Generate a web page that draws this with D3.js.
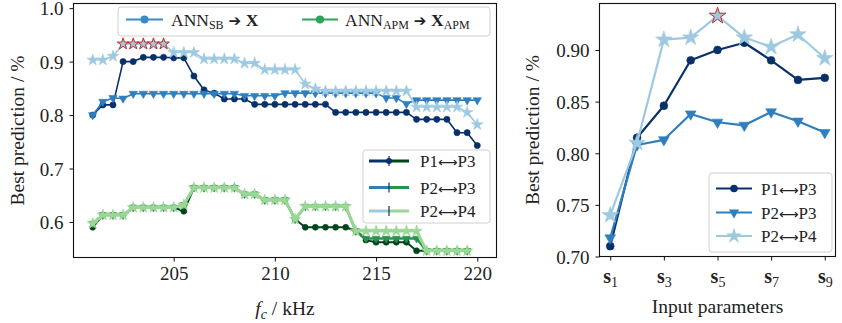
<!DOCTYPE html>
<html><head><meta charset="utf-8">
<script src="https://cdn.jsdelivr.net/npm/d3@7"></script>
<style>body{margin:0;background:#fff}svg{display:block}text{font-family:"Liberation Serif","DejaVu Serif",serif;fill:#222}</style>
</head><body><svg id="c" width="842" height="323"></svg>
<script>
// ---------- data (left panel) ----------
const fcSB = [201,201.5,202,202.5,203,203.5,204,204.5,205,205.5,206,206.5,207,207.5,208,208.5,209,209.5,210,210.5,211,211.5,212,212.5,213,213.5,214,214.5,215,215.5,216,216.5,217,217.5,218,218.5,219,219.5,220];
const sbP13 = [0.800,0.819,0.819,0.900,0.900,0.908,0.908,0.908,0.907,0.907,0.873,0.847,0.841,0.830,0.830,0.830,0.820,0.820,0.820,0.820,0.820,0.820,0.820,0.820,0.805,0.805,0.805,0.805,0.805,0.805,0.805,0.805,0.792,0.792,0.792,0.792,0.767,0.767,0.743];
const sbP23 = [0.800,0.825,0.832,0.831,0.840,0.840,0.840,0.840,0.840,0.840,0.840,0.840,0.840,0.840,0.840,0.836,0.836,0.836,0.836,0.841,0.841,0.841,0.841,0.841,0.841,0.841,0.841,0.841,0.841,0.832,0.832,0.821,0.828,0.828,0.828,0.828,0.828,0.828,0.828];
const sbP24 = [0.903,0.903,0.910,0.933,0.933,0.933,0.933,0.933,0.917,0.917,0.917,0.905,0.905,0.905,0.905,0.897,0.897,0.885,0.885,0.885,0.885,0.858,0.849,0.845,0.845,0.845,0.845,0.845,0.845,0.845,0.845,0.845,0.815,0.815,0.815,0.815,0.815,0.805,0.782];
const fcAPM = [201,201.5,202,202.5,203,203.5,204,204.5,205,205.5,206,206.5,207,207.5,208,208.5,209,209.5,210,210.5,211,211.5,212,212.5,213,213.5,214,214.5,215,215.5,216,216.5,217,217.5,218,218.5,219,219.5];
const apmP13 = [0.590,0.613,0.613,0.613,0.627,0.627,0.627,0.627,0.627,0.620,0.664,0.664,0.664,0.664,0.664,0.652,0.652,0.641,0.641,0.641,0.605,0.590,0.590,0.590,0.590,0.590,0.583,0.566,0.562,0.562,0.562,0.562,0.546,0.546,0.546,0.546,0.546,0.546];
const apmP23 = [0.597,0.613,0.613,0.613,0.627,0.627,0.627,0.627,0.627,0.632,0.664,0.664,0.664,0.664,0.664,0.652,0.652,0.641,0.641,0.641,0.605,0.629,0.629,0.629,0.629,0.629,0.583,0.569,0.569,0.569,0.569,0.569,0.569,0.546,0.546,0.546,0.546,0.546];
const apmP24 = [0.597,0.613,0.613,0.613,0.627,0.627,0.627,0.627,0.627,0.632,0.664,0.664,0.664,0.664,0.664,0.652,0.652,0.641,0.641,0.641,0.605,0.629,0.629,0.629,0.629,0.629,0.583,0.583,0.583,0.583,0.583,0.583,0.583,0.546,0.546,0.546,0.546,0.546];
const leftXTicks = [205,210,215,220];
const leftYTicks = [0.6,0.7,0.8,0.9,1.0];
// ---------- data (right panel) ----------
const inputIdx = [1,2,3,4,5,6,7,8,9];
const inP13 = [0.710,0.815,0.846,0.890,0.900,0.907,0.890,0.871,0.873];
const inP23 = [0.718,0.808,0.813,0.838,0.830,0.827,0.840,0.831,0.820];
const inP24 = [0.740,0.810,0.910,0.912,0.933,0.912,0.903,0.915,0.892];
const rightXTicks = [1,3,5,7,9];
const rightYTicks = [0.70,0.75,0.80,0.85,0.90];
const pairLabels = ["P1","P3","P2","P3","P2","P4"];

const C = {navy:"#08306b", mid:"#2f7fbf", light:"#9ecae1", dg:"#00441b", mg:"#2a9150", lg:"#9bd795", red:"#c62828"};
const svg = d3.select("#c");
const T = 19;

function sym(type, size){
  if(type==="circle") return d3.symbol(d3.symbolCircle, size)();
  if(type==="tri") return d3.symbol(d3.symbolTriangle, size)();
  return d3.symbol(d3.symbolStar, size)();
}
function series(g, x, y, xs, ys, color, lw, type, size, maxV){
  const pts = xs.map((d,i)=>[d, ys[i]]);
  g.append("path").attr("d", d3.line().x(d=>x(d[0])).y(d=>y(d[1]))(pts))
    .attr("fill","none").attr("stroke",color).attr("stroke-width",lw).attr("stroke-linejoin","round");
  g.selectAll(null).data(pts).join("path")
    .attr("d", sym(type,size))
    .attr("transform", d=>`translate(${x(d[0])},${y(d[1])})${type==="tri"?" rotate(180)":""}`)
    .attr("fill", color)
    .attr("stroke", d=> (maxV!==undefined && d[1]>=maxV) ? C.red : color)
    .attr("stroke-width", d=> (maxV!==undefined && d[1]>=maxV) ? 1 : 0.6);
}
function frame(g, x0, x1, y0, y1){
  g.append("rect").attr("x",x0).attr("y",y0).attr("width",x1-x0).attr("height",y1-y0)
    .attr("fill","none").attr("stroke","#111").attr("stroke-width",1.1);
}
function pairText(g, x, y, a, b, fs){
  const t = g.append("text").attr("x",x).attr("y",y).attr("font-size",fs);
  t.append("tspan").text(a);
  t.append("tspan").style("font-family","'DejaVu Sans',sans-serif").attr("font-size",fs*0.8).text("⟷");
  t.append("tspan").text(b);
}

// ================= LEFT PANEL =================
const L = {x0:73.5, x1:496.5, y0:3.5, y1:257.5};
const xL = d3.scaleLinear().domain([200.05,220.95]).range([L.x0,L.x1]);
const yL = d3.scaleLinear().domain([0.5335,1.0087]).range([L.y1,L.y0]);
const gl = svg.append("g");
const gxl = gl.append("g").attr("transform",`translate(0,${L.y1})`)
  .call(d3.axisBottom(xL).tickValues(leftXTicks).tickSize(4).tickPadding(5).tickFormat(d3.format("d")));
const gyl = gl.append("g").attr("transform",`translate(${L.x0},0)`)
  .call(d3.axisLeft(yL).tickValues(leftYTicks).tickSize(4).tickPadding(6).tickFormat(d3.format(".1f")));
[gxl,gyl].forEach(a=>{a.select(".domain").remove(); a.selectAll("line").attr("stroke","#111"); a.selectAll("text").attr("font-size",T).style("font-family","'Liberation Serif',serif").attr("fill","#222");});
gyl.selectAll("text").attr("dy","0.36em");

const maxSB = d3.max(sbP24);
series(gl,xL,yL,fcAPM,apmP13,C.dg,2,"circle",28);
series(gl,xL,yL,fcAPM,apmP23,C.mg,2.6,"tri",26);
series(gl,xL,yL,fcAPM,apmP24,C.lg,3,"star",40);
series(gl,xL,yL,fcSB,sbP13,C.navy,1.6,"circle",30);
series(gl,xL,yL,fcSB,sbP23,C.mid,1.6,"tri",30);
series(gl,xL,yL,fcSB,sbP24,C.light,1.6,"star",42,maxSB);
frame(gl,L.x0,L.x1,L.y0,L.y1);

// top legend
const lg1 = gl.append("g");
lg1.append("rect").attr("x",118).attr("y",7).attr("width",372).attr("height",29).attr("rx",3)
  .attr("fill","rgba(255,255,255,0.85)").attr("stroke","#d0d0d0");
function lineHandle(g, xa, xb, yy, color, lw, type, size){
  g.append("line").attr("x1",xa).attr("x2",xb).attr("y1",yy).attr("y2",yy).attr("stroke",color).attr("stroke-width",lw);
  if(type) g.append("path").attr("d",sym(type,size)).attr("fill",color)
    .attr("transform",`translate(${(xa+xb)/2},${yy})${type==="tri"?" rotate(180)":""}`);
}
lineHandle(lg1,126,163,19.5,"#3a8ac8",2,"circle",50);
lineHandle(lg1,302,338,19.5,"#2ea35a",2,"circle",50);
let t1 = lg1.append("text").attr("x",171).attr("y",26).attr("font-size",17.5);
t1.append("tspan").text("ANN");
t1.append("tspan").attr("font-size",12).attr("dy",3).text("SB");
t1.append("tspan").attr("dy",-3).style("font-family","'DejaVu Sans',sans-serif").attr("font-size",15).text(" ➔ ");
t1.append("tspan").attr("font-weight","bold").text("X");
let t2 = lg1.append("text").attr("x",345).attr("y",26).attr("font-size",17.5);
t2.append("tspan").text("ANN");
t2.append("tspan").attr("font-size",12).attr("dy",3).text("APM");
t2.append("tspan").attr("dy",-3).style("font-family","'DejaVu Sans',sans-serif").attr("font-size",15).text(" ➔ ");
t2.append("tspan").attr("font-weight","bold").text("X");
t2.append("tspan").attr("font-size",12).attr("dy",3).text("APM");

// lower-left legend
const lg2 = gl.append("g");
lg2.append("rect").attr("x",363).attr("y",150).attr("width",127).attr("height",73).attr("rx",3)
  .attr("fill","rgba(255,255,255,0.85)").attr("stroke","#d0d0d0");
const pairColors = [[C.navy,C.dg],[C.mid,C.mg],[C.light,C.lg]];
const lgY = [161,187.5,211];
lgY.forEach((yy,i)=>{
  lg2.append("line").attr("x1",369).attr("x2",389).attr("y1",yy).attr("y2",yy).attr("stroke",pairColors[i][0]).attr("stroke-width",3);
  lg2.append("line").attr("x1",389).attr("x2",409).attr("y1",yy).attr("y2",yy).attr("stroke",pairColors[i][1]).attr("stroke-width",3);
  if(i===0) lg2.append("circle").attr("cx",389).attr("cy",yy).attr("r",3).attr("fill",C.navy);
  lg2.append("line").attr("x1",389).attr("x2",389).attr("y1",yy-5).attr("y2",yy+5).attr("stroke","#10325a").attr("stroke-width",1.2);
  pairText(lg2,420,yy+6,pairLabels[2*i],pairLabels[2*i+1],17);
});

// axis labels left
gl.append("text").attr("transform",`translate(24,${(L.y0+L.y1)/2}) rotate(-90)`).attr("text-anchor","middle")
  .attr("font-size",T+0.5).text("Best prediction / %");
const xlab = gl.append("text").attr("x",(L.x0+L.x1)/2).attr("y",315).attr("text-anchor","middle").attr("font-size",T+0.5);
xlab.append("tspan").attr("font-style","italic").text("f");
xlab.append("tspan").attr("font-style","italic").attr("font-size",14).attr("dy",4).text("c");
xlab.append("tspan").attr("dy",-4).text(" / kHz");

// ================= RIGHT PANEL =================
const R = {x0:599.5, x1:835.5, y0:3.5, y1:256.5};
const xR = d3.scaleLinear().domain([0.6,9.4]).range([R.x0,R.x1]);
const yR = d3.scaleLinear().domain([0.70,0.945]).range([R.y1,R.y0]);
const gr = svg.append("g");
const gxr = gr.append("g").attr("transform",`translate(0,${R.y1})`)
  .call(d3.axisBottom(xR).tickValues(rightXTicks).tickSize(4).tickFormat(""));
const gyr = gr.append("g").attr("transform",`translate(${R.x0},0)`)
  .call(d3.axisLeft(yR).tickValues(rightYTicks).tickSize(4).tickPadding(6).tickFormat(d3.format(".2f")));
[gxr,gyr].forEach(a=>{a.select(".domain").remove(); a.selectAll("line").attr("stroke","#111"); a.selectAll("text").attr("font-size",T).style("font-family","'Liberation Serif',serif").attr("fill","#222");});
gyr.selectAll("text").attr("dy","0.36em");
gxr.selectAll(".tick").each(function(d){
  const t = d3.select(this).append("text").attr("y",26).attr("text-anchor","middle").attr("fill","#222")
    .attr("font-size",T+1).style("font-family","'Liberation Serif',serif");
  t.append("tspan").attr("font-weight","bold").text("s");
  t.append("tspan").attr("font-size",14).attr("dy",4).text(d);
});
const maxIn = d3.max(inP24);
series(gr,xR,yR,inputIdx,inP13,C.navy,2.2,"circle",48);
series(gr,xR,yR,inputIdx,inP23,C.mid,2.2,"tri",50);
series(gr,xR,yR,inputIdx,inP24,C.light,2.2,"star",85,maxIn);
frame(gr,R.x0,R.x1,R.y0,R.y1);

const lg3 = gr.append("g");
lg3.append("rect").attr("x",709).attr("y",173).attr("width",123).attr("height",79).attr("rx",3)
  .attr("fill","rgba(255,255,255,0.85)").attr("stroke","#d0d0d0");
const rl = [[188.5,C.navy,"circle",45],[212.5,C.mid,"tri",45],[236,C.light,"star",80]];
rl.forEach((r,i)=>{
  lineHandle(lg3,716,752,r[0],r[1],2.2,r[2],r[3]);
  pairText(lg3,761,r[0]+6,pairLabels[2*i],pairLabels[2*i+1],17);
});
gr.append("text").attr("transform",`translate(539,${(R.y0+R.y1)/2}) rotate(-90)`).attr("text-anchor","middle")
  .attr("font-size",T+0.5).text("Best prediction / %");
gr.append("text").attr("x",(R.x0+R.x1)/2).attr("y",313).attr("text-anchor","middle").attr("font-size",T+0.5).text("Input parameters");
</script></body></html>
